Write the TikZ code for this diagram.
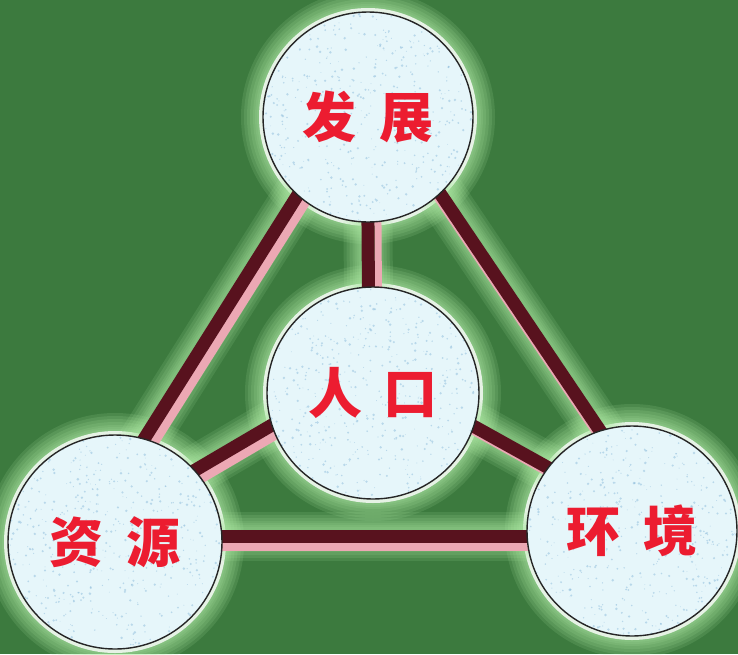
\documentclass[tikz,border=0pt]{standalone}
\usepackage{fontspec}
\newfontfamily\cjk{Noto Sans CJK SC}
\usetikzlibrary{calc}
\definecolor{bg}{RGB}{60,122,62}
\definecolor{glowc}{RGB}{175,235,165}
\definecolor{barDark}{RGB}{88,18,30}
\definecolor{barPink}{RGB}{236,168,180}
\definecolor{disc}{RGB}{230,246,250}
\definecolor{speck}{RGB}{130,180,215}
\definecolor{txtred}{RGB}{236,28,48}
\tikzset{
  hub/.style={circle, draw=black!85, line width=1.4pt, fill=disc,
    inner sep=0pt, outer sep=0pt, minimum size=#1,
    font=\cjk\bfseries\fontsize{54}{54}\selectfont, text=txtred,
    path picture={
      \foreach \k in {1,...,650}{
        \pgfmathsetmacro{\rx}{rand*112}
        \pgfmathsetmacro{\ry}{rand*112}
        \pgfmathsetmacro{\rs}{0.4+rnd*1.0}
        \fill[speck, opacity=0.45] ([shift={(\rx pt,\ry pt)}]path picture bounding box.center) circle (\rs pt);
      }
    }},
  barglow/.style={glowc, opacity=0.13, line width=#1},
  darkbar/.style={barDark, line width=13pt},
}
\newcommand\circglow[2]{%
  \foreach \o in {22,19,16,13,10,8,6}{\fill[glowc, opacity=0.14] (#1) circle ({#2+\o});}
  \fill[white, opacity=0.8] (#1) circle ({#2+4});
}
\newcommand\barglow[2]{%
  \foreach \o in {18,15,12,9,7,5,3}{\draw[barglow={13pt+2*\o pt}] (#1) -- (#2);}
}
% #1 from, #2 to, #3 angle at from, #4 angle at to, #5 pink width, #6 pink offset
\newcommand\barlink[6]{%
  \draw[barPink, line width=#5pt] ($(#1)!#6pt!#3:(#2)$) -- ($(#2)!#6pt!#4:(#1)$);
  \draw[darkbar] (#1) -- (#2);
}
\begin{document}
\begin{tikzpicture}[x=1pt,y=-1pt]
\pgfmathsetseed{4242}
\useasboundingbox (0,0) rectangle (738,654);
\fill[bg] (0,0) rectangle (738,654);
% circle centres
\coordinate (cT) at (368,117);
\coordinate (cC) at (373,393);
\coordinate (cL) at (115,542);
\coordinate (cR) at (632,531);
% bar frame points
\coordinate (vT) at (367,85);
\coordinate (vL) at (83,536);
\coordinate (vR) at (671,536);
\coordinate (hub) at (369,368);
% glows
\circglow{cT}{105}
\circglow{cC}{106}
\circglow{cL}{107}
\circglow{cR}{105}
\barglow{vT}{vL}
\barglow{vT}{vR}
\barglow{vL}{vR}
\barglow{vT}{hub}
\barglow{hub}{vL}
\barglow{hub}{vR}
% bars
\barlink{vT}{vL}{90}{-90}{9}{10.5}
\barlink{vT}{vR}{-90}{90}{2.5}{7}
\barlink{vL}{vR}{-90}{90}{9}{10.5}
\barlink{vT}{hub}{90}{-90}{7}{10}
\barlink{hub}{vL}{90}{-90}{9}{10.5}
\barlink{hub}{vR}{-90}{90}{2.5}{7}
% circles
\node[hub=210pt] (T) at (cT) {发\hspace{24pt}展};
\node[hub=212pt] (C) at (cC) {人\hspace{22pt}口};
\node[hub=214pt] (L) at (cL) {资\hspace{24pt}源};
\node[hub=210pt] (R) at (cR) {环\hspace{24pt}境};
\end{tikzpicture}
\end{document}
